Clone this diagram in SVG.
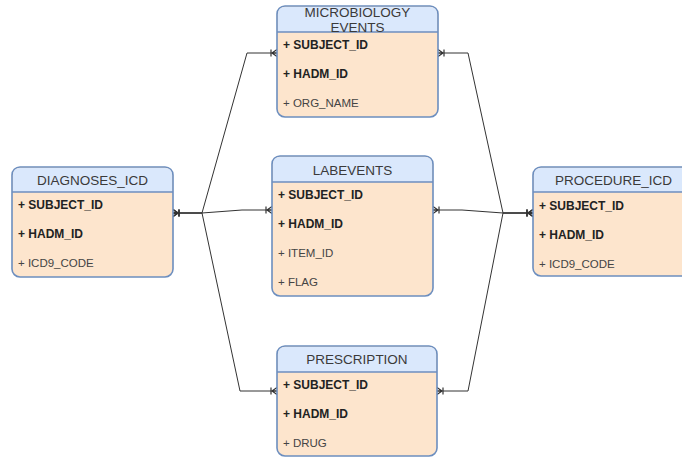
<svg xmlns="http://www.w3.org/2000/svg" width="682" height="457" viewBox="0 0 682 457">
<defs>
<marker id="crow" viewBox="0 0 12 10" markerWidth="12" markerHeight="10" refX="12" refY="5" orient="auto-start-reverse" markerUnits="userSpaceOnUse">
<path d="M7,5 L12,1.5 M7,5 L12,5 M7,5 L12,8.5 M6,1.5 L6,8.5" fill="none" stroke="#333" stroke-width="1.2"/>
</marker>
</defs>
<style>
.body{fill:#fde5cd;stroke:#6c8ebf;stroke-width:1.6}
.head{fill:#dae8fc;stroke:none}
.sep{stroke:#6c8ebf;stroke-width:1.6}
.title{font-family:"Liberation Sans",Arial,sans-serif;font-size:13.5px;fill:#3a3a3a;text-anchor:middle}
.key{font-family:"Liberation Sans",Arial,sans-serif;font-size:12px;font-weight:bold;fill:#222}
.fld{font-family:"Liberation Sans",Arial,sans-serif;font-size:11.5px;fill:#444}
.edge{fill:none;stroke:#333;stroke-width:1;marker-start:url(#crow);marker-end:url(#crow)}
</style>
<rect width="682" height="457" fill="#ffffff"/>
<g id="connectors">
<path class="edge" d="M173,213 L202,213 L247,53 L277,53"/>
<path class="edge" d="M173,213 L202,213 L242,210 L272,210"/>
<path class="edge" d="M173,213 L202,213 L240,391 L277,391"/>
<path class="edge" d="M533,213 L503,213 L468,53 L438,53"/>
<path class="edge" d="M533,213 L503,213 L462,210 L433,210"/>
<path class="edge" d="M533,213 L503,213 L468,391 L437,391"/>
</g>
<g id="microbiology_events">
<rect class="body" x="277" y="6" width="161" height="111" rx="8"/>
<path class="head" d="M278,32 L278,14 Q278,7 285,7 L430,7 Q437,7 437,14 L437,32 Z"/>
<line class="sep" x1="277" y1="32" x2="438" y2="32"/>
<text class="title" x="357.5" y="17">MICROBIOLOGY</text>
<text class="title" x="357.5" y="32">EVENTS</text>
<text class="key" x="283" y="49">+ SUBJECT_ID</text>
<text class="key" x="283" y="78">+ HADM_ID</text>
<text class="fld" x="283" y="107">+ ORG_NAME</text>
</g>
<g id="diagnoses_icd">
<rect class="body" x="12" y="167" width="161" height="110" rx="8"/>
<path class="head" d="M13,192 L13,175 Q13,168 20,168 L165,168 Q172,168 172,175 L172,192 Z"/>
<line class="sep" x1="12" y1="192" x2="173" y2="192"/>
<text class="title" x="92.5" y="185">DIAGNOSES_ICD</text>
<text class="key" x="18" y="209">+ SUBJECT_ID</text>
<text class="key" x="18" y="238">+ HADM_ID</text>
<text class="fld" x="18" y="267">+ ICD9_CODE</text>
</g>
<g id="labevents">
<rect class="body" x="272" y="156" width="161" height="140" rx="8"/>
<path class="head" d="M273,182 L273,164 Q273,157 280,157 L425,157 Q432,157 432,164 L432,182 Z"/>
<line class="sep" x1="272" y1="182" x2="433" y2="182"/>
<text class="title" x="352.5" y="175">LABEVENTS</text>
<text class="key" x="278" y="199">+ SUBJECT_ID</text>
<text class="key" x="278" y="228">+ HADM_ID</text>
<text class="fld" x="278" y="257">+ ITEM_ID</text>
<text class="fld" x="278" y="286">+ FLAG</text>
</g>
<g id="procedure_icd">
<rect class="body" x="533" y="167" width="161" height="109" rx="8"/>
<path class="head" d="M534,192 L534,175 Q534,168 541,168 L686,168 Q693,168 693,175 L693,192 Z"/>
<line class="sep" x1="533" y1="192" x2="694" y2="192"/>
<text class="title" x="613.5" y="185">PROCEDURE_ICD</text>
<text class="key" x="539" y="210">+ SUBJECT_ID</text>
<text class="key" x="539" y="239">+ HADM_ID</text>
<text class="fld" x="539" y="268">+ ICD9_CODE</text>
</g>
<g id="prescription">
<rect class="body" x="277" y="346" width="160" height="110" rx="8"/>
<path class="head" d="M278,372 L278,354 Q278,347 285,347 L429,347 Q436,347 436,354 L436,372 Z"/>
<line class="sep" x1="277" y1="372" x2="437" y2="372"/>
<text class="title" x="357" y="364">PRESCRIPTION</text>
<text class="key" x="283" y="389">+ SUBJECT_ID</text>
<text class="key" x="283" y="418">+ HADM_ID</text>
<text class="fld" x="283" y="447">+ DRUG</text>
</g>
</svg>
